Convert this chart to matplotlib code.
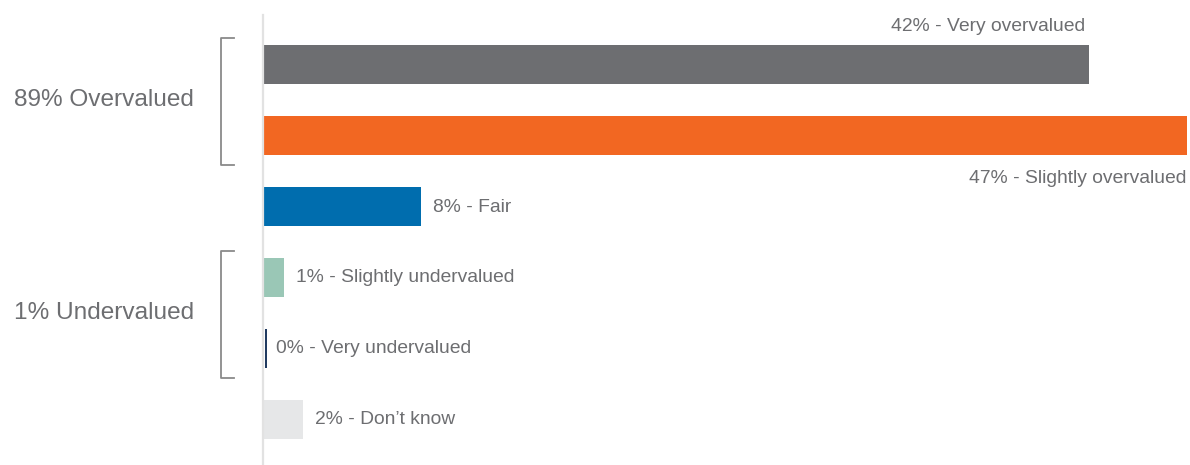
import matplotlib
matplotlib.use("Agg")
import matplotlib.pyplot as plt
from matplotlib import transforms

plt.rcParams['font.family'] = ['Liberation Sans', 'DejaVu Sans']

# survey answers, top to bottom
answers = ['Very overvalued', 'Slightly overvalued', 'Fair',
           'Slightly undervalued', 'Very undervalued', "Don\u2019t know"]
shares = [42, 47, 8, 1, 0, 2]
bar_colors = ['#6d6e71', '#f26722', '#006dae', '#9ac7b6', '#1b365d', '#e6e7e8']
# where each value label sits relative to its bar
label_place = ['above', 'below', 'right', 'right', 'right', 'right']

# bracketed groups: (label, first bar, last bar)
groups = [('89% Overvalued', 0, 1), ('1% Undervalued', 3, 4)]

TEXT = '#6d6e71'

fig = plt.figure(figsize=(11.9, 4.65), dpi=100)
ax = fig.add_axes([264 / 1190, 0, 926 / 1190, 1])

ypos = list(range(len(answers)))
ax.barh(ypos, shares, height=0.55, color=bar_colors, linewidth=0)
# zero bar still shows as a hairline next to the axis
nudge = transforms.offset_copy(ax.transData, fig=fig, x=1.5, y=0, units='dots')
for y, v, c in zip(ypos, shares, bar_colors):
    if v == 0:
        ax.plot([0, 0], [y - 0.275, y + 0.275], color=c, lw=1.4,
                solid_capstyle='butt', transform=nudge, zorder=4)

ax.set_xlim(0, 47.15)
ax.set_ylim(5.648, -0.91)

for s in ['top', 'right', 'bottom']:
    ax.spines[s].set_visible(False)
ax.spines['left'].set_color('#e2e2e2')
ax.spines['left'].set_linewidth(1.6)
ax.spines['left'].set_bounds(-0.70, 5.648)
ax.spines['left'].set_position(('outward', 1))
ax.set_xticks([])
ax.set_yticks([])
ax.patch.set_alpha(0)

px = transforms.offset_copy
for y, v, name, where in zip(ypos, shares, answers, label_place):
    txt = f'{v}% - {name}'
    if where == 'above':
        ax.text(v, y - 0.53, txt, ha='right', va='center', fontsize=13.9, color=TEXT,
                transform=px(ax.transData, fig=fig, x=-4, y=0, units='dots'))
    elif where == 'below':
        ax.text(v, y + 0.61, txt, ha='right', va='center', fontsize=13.9, color=TEXT,
                transform=px(ax.transData, fig=fig, x=-1, y=0, units='dots'))
    else:
        ax.text(v, y + 0.01, txt, ha='left', va='center', fontsize=13.9, color=TEXT,
                transform=px(ax.transData, fig=fig, x=12, y=0, units='dots'))

blend = transforms.blended_transform_factory(ax.transAxes, ax.transData)
for label, first, last in groups:
    top, bot = first - 0.375, last + 0.42
    x0, x1 = -0.0464, -0.0324
    ax.plot([x1, x0, x0, x1], [top, top, bot, bot], color='#8a8a8a', lw=1.3,
            transform=blend, clip_on=False)
    ax.text(-0.27, (first + last) / 2, label, ha='left', va='center',
            fontsize=17.6, color=TEXT, transform=blend)

fig.savefig('out.png', dpi=100)
